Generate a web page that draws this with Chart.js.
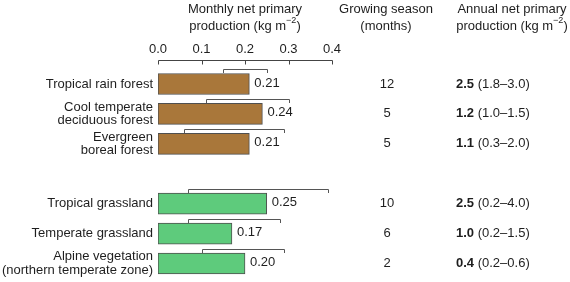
<!DOCTYPE html>
<html>
<head>
<meta charset="utf-8">
<script src="https://cdn.jsdelivr.net/npm/chart.js@4/dist/chart.umd.min.js"></script>
<style>
  html, body { margin: 0; padding: 0; background: #fff; }
  #wrap { width: 570px; height: 282px; }
</style>
</head>
<body>
<div id="wrap"><canvas id="npp" width="570" height="282"></canvas></div>
<script>
// --- data ---
const categories = [
  "Tropical rain forest",
  ["Cool temperate", "deciduous forest"],
  ["Evergreen", "boreal forest"],
  "",
  "Tropical grassland",
  "Temperate grassland",
  ["Alpine vegetation", "(northern temperate zone)"]
];
const biomeType = ["forest", "forest", "forest", null, "grass", "grass", "grass"];
const monthlyNPP = [0.21, 0.24, 0.21, null, 0.25, 0.17, 0.20];
const monthlyLow = [0.15, 0.11, 0.06, null, 0.07, 0.07, 0.10];
const monthlyHigh = [0.25, 0.30, 0.29, null, 0.39, 0.28, 0.29];
const growingSeason = ["12", "5", "5", "", "10", "6", "2"];
const annualNPP = ["2.5", "1.2", "1.1", "", "2.5", "1.0", "0.4"];
const annualRange = ["(1.8–3.0)", "(1.0–1.5)", "(0.3–2.0)", "", "(0.2–4.0)", "(0.2–1.5)", "(0.2–0.6)"];
const xTicks = [0.0, 0.1, 0.2, 0.3, 0.4];

const FONT = '"Liberation Sans", Arial, Helvetica, sans-serif';
const TEXT = '#1e1e1e';
const fills = { forest: '#a9773a', grass: '#5ecb7c' };

// two-line header with a "kg m-2" superscript on the second line
function drawHeader(ctx, cx, line1, pre, sup, post) {
  ctx.fillStyle = TEXT;
  ctx.textBaseline = 'middle';
  ctx.textAlign = 'center';
  ctx.font = '13px ' + FONT;
  ctx.fillText(line1, cx, 9);
  const wPre = ctx.measureText(pre).width;
  const wPost = ctx.measureText(post).width;
  ctx.font = '9px ' + FONT;
  const wSup = ctx.measureText(sup).width;
  let x = cx - (wPre + wSup + wPost) / 2;
  ctx.textAlign = 'left';
  ctx.font = '13px ' + FONT;
  ctx.fillText(pre, x, 26);
  x += wPre;
  ctx.font = '9px ' + FONT;
  ctx.fillText(sup, x, 21);
  x += wSup;
  ctx.font = '13px ' + FONT;
  ctx.fillText(post, x, 26);
}

const extras = {
  id: 'extras',
  afterDatasetsDraw(chart) {
    const ctx = chart.ctx;
    const xs = chart.scales.x, ys = chart.scales.y;
    ctx.save();

    // top axis with inward ticks
    const ay = 60.5;
    ctx.strokeStyle = '#444';
    ctx.lineWidth = 1;
    ctx.beginPath();
    ctx.moveTo(Math.round(xs.getPixelForValue(xTicks[0])) + 0.5, ay);
    ctx.lineTo(Math.round(xs.getPixelForValue(xTicks[xTicks.length - 1])) + 0.5, ay);
    xTicks.forEach(v => {
      const px = Math.round(xs.getPixelForValue(v)) + 0.5;
      ctx.moveTo(px, ay);
      ctx.lineTo(px, ay + 4);
    });
    ctx.stroke();
    ctx.fillStyle = TEXT;
    ctx.font = '13px ' + FONT;
    ctx.textAlign = 'center';
    ctx.textBaseline = 'middle';
    xTicks.forEach(v => ctx.fillText(v.toFixed(1), xs.getPixelForValue(v), 49));

    // headers
    drawHeader(ctx, (xs.left + xs.right) / 2, 'Monthly net primary', 'production (kg m', '−2', ')');
    drawHeader(ctx, 512, 'Annual net primary', 'production (kg m', '−2', ')');
    ctx.font = '13px ' + FONT;
    ctx.textAlign = 'center';
    ctx.fillStyle = TEXT;
    ctx.fillText('Growing season', 386, 9);
    ctx.fillText('(months)', 386, 26);

    categories.forEach((c, i) => {
      if (monthlyNPP[i] == null) return;
      const yc = ys.getPixelForValue(i);
      const top = yc - 10.5;

      // range bracket above the bar
      const by = Math.round(top - 4) + 0.5;
      const x0 = Math.round(xs.getPixelForValue(monthlyLow[i])) + 0.5;
      const x1 = Math.round(xs.getPixelForValue(monthlyHigh[i])) + 0.5;
      ctx.strokeStyle = '#555';
      ctx.beginPath();
      ctx.moveTo(x0, by + 3.5);
      ctx.lineTo(x0, by);
      ctx.lineTo(x1, by);
      ctx.lineTo(x1, by + 3.5);
      ctx.stroke();

      // value label
      ctx.fillStyle = TEXT;
      ctx.font = '13px ' + FONT;
      ctx.textAlign = 'left';
      ctx.fillText(monthlyNPP[i].toFixed(2), xs.getPixelForValue(monthlyNPP[i]) + 5, yc - 1);

      // growing season column
      ctx.textAlign = 'center';
      ctx.fillText(growingSeason[i], 387, yc);

      // annual NPP column
      ctx.textAlign = 'left';
      ctx.font = 'bold 13px ' + FONT;
      ctx.fillText(annualNPP[i], 456, yc);
      const w = ctx.measureText(annualNPP[i] + ' ').width;
      ctx.font = '13px ' + FONT;
      ctx.fillText(annualRange[i], 456 + w, yc);
    });
    ctx.restore();
  }
};

new Chart(document.getElementById('npp'), {
  type: 'bar',
  data: {
    labels: categories,
    datasets: [{
      data: monthlyNPP,
      backgroundColor: biomeType.map(t => t ? fills[t] : 'transparent'),
      borderColor: '#4f4f4f',
      borderWidth: 1,
      borderSkipped: false,
      barThickness: 21
    }]
  },
  options: {
    indexAxis: 'y',
    responsive: false,
    animation: false,
    devicePixelRatio: 1,
    layout: { padding: { top: 69, bottom: 3.5, left: 0, right: 238 } },
    plugins: { legend: { display: false }, tooltip: { enabled: false } },
    scales: {
      x: { display: false, min: 0, max: 0.4 },
      y: {
        grid: { display: false, drawTicks: false },
        border: { display: false },
        ticks: { color: TEXT, autoSkip: false, font: { family: FONT, size: 13, lineHeight: 1.03 }, padding: 5 },
        afterFit: s => { s.width = 158; s.paddingTop = 0; s.paddingBottom = 0; }
      }
    }
  },
  plugins: [extras]
});
</script>
</body>
</html>
